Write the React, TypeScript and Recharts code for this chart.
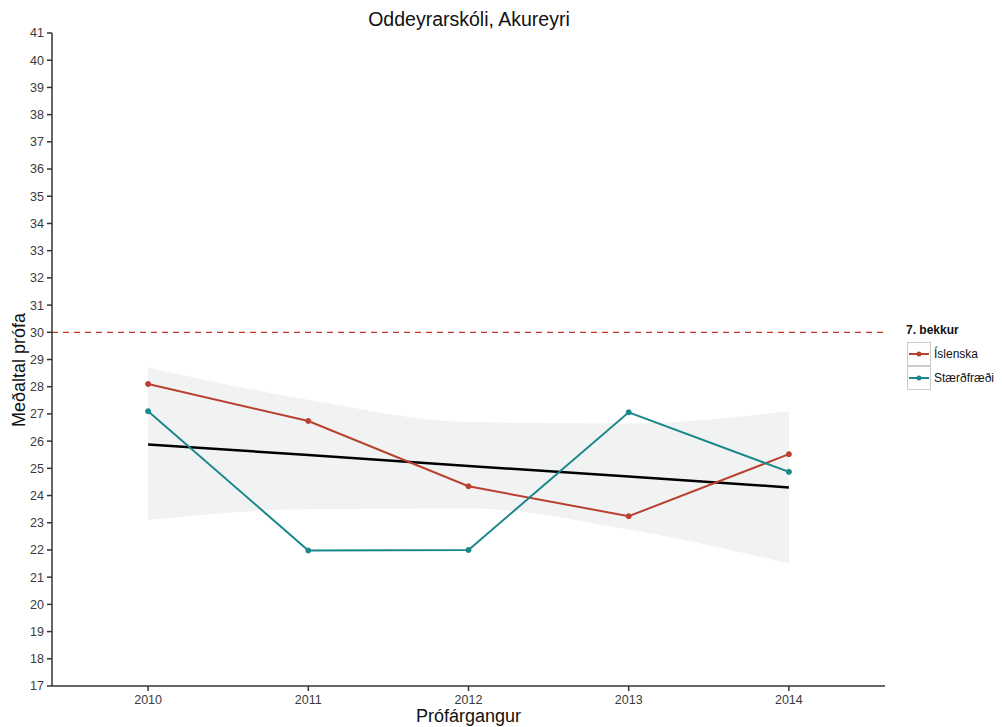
import {
  ComposedChart,
  Area,
  Line,
  XAxis,
  YAxis,
  ReferenceLine,
  Label,
} from "recharts";

const years = [2010, 2011, 2012, 2013, 2014];
const islenska = [28.1, 26.74, 24.34, 23.24, 25.52];
const staerdfraedi = [27.1, 21.98, 22.0, 27.06, 24.87];
const trend = [25.88, 25.49, 25.09, 24.7, 24.3];
const bandLow = [23.1, 23.5, 23.52, 22.75, 21.5];
const bandHigh = [28.7, 27.52, 26.7, 26.65, 27.1];
const yTicks = [17, 18, 19, 20, 21, 22, 23, 24, 25, 26, 27, 28, 29, 30, 31, 32, 33, 34, 35, 36, 37, 38, 39, 40, 41];
const target = 30;

const series = [
  { key: "islenska", name: "Íslenska", color: "#b9402f" },
  { key: "staerdfraedi", name: "Stærðfræði", color: "#1a878b" },
];

const data = years.map((y, i) => ({
  year: y,
  islenska: islenska[i],
  staerdfraedi: staerdfraedi[i],
  trend: trend[i],
  band: [bandLow[i], bandHigh[i]],
}));

const font = "'Liberation Sans', Arial, sans-serif";
const tick = { fontSize: 12.5, fill: "#3a3a3a", fontFamily: font };

export default function App() {
  return (
    <div style={{ position: "absolute", left: 0, top: 0, width: 1002, height: 727, fontFamily: font, background: "#fff" }}>
      <div style={{ position: "absolute", top: 8, left: 0, width: 938, textAlign: "center", fontSize: 19.5, color: "#111" }}>
        Oddeyrarskóli, Akureyri
      </div>
      <div
        style={{
          position: "absolute",
          left: 19,
          top: 370,
          transform: "translate(-50%, -50%) rotate(-90deg)",
          fontSize: 18,
          color: "#111",
          whiteSpace: "nowrap",
        }}
      >
        Meðaltal prófa
      </div>
      <ComposedChart width={1002} height={727} data={data} margin={{ top: 33, right: 117, bottom: 5, left: 22 }}>
        <XAxis
          dataKey="year"
          type="number"
          domain={[2009.4, 2014.6]}
          ticks={years}
          tick={tick}
          tickSize={5}
          tickMargin={4}
          height={36}
          stroke="#333"
          strokeWidth={1.5}
        >
          <Label value="Prófárgangur" position="insideBottom" offset={0} style={{ fontSize: 18, fill: "#111", fontFamily: font }} />
        </XAxis>
        <YAxis
          type="number"
          domain={[17, 41]}
          ticks={yTicks}
          interval={0}
          tick={tick}
          tickSize={5}
          tickMargin={3}
          width={30}
          stroke="#333"
          strokeWidth={1.5}
        />
        <Area
          dataKey="band"
          type="monotone"
          fill="#f1f3f3"
          fillOpacity={1}
          stroke="none"
          isAnimationActive={false}
        />
        <ReferenceLine y={target} stroke="#c0392b" strokeDasharray="6 5" strokeWidth={1.3} />
        <Line dataKey="trend" stroke="#000" strokeWidth={2.5} dot={false} isAnimationActive={false} />
        {series.map((s) => (
          <Line
            key={s.key}
            dataKey={s.key}
            stroke={s.color}
            strokeWidth={2}
            dot={{ r: 2.5, fill: s.color, stroke: s.color, strokeWidth: 1 }}
            isAnimationActive={false}
          />
        ))}
      </ComposedChart>
      <div style={{ position: "absolute", left: 906, top: 323, fontSize: 12, fontWeight: "bold", color: "#111" }}>7. bekkur</div>
      {series.map((s, i) => (
        <div key={s.key} style={{ position: "absolute", left: 907, top: 342 + i * 24, display: "flex", alignItems: "center" }}>
          <svg width={24} height={24} style={{ display: "block" }}>
            <rect x={0.5} y={0.5} width={23} height={23} fill="#fff" stroke="#ccc" />
            <line x1={2} y1={12} x2={22} y2={12} stroke={s.color} strokeWidth={2} />
            <circle cx={12} cy={12} r={2.5} fill={s.color} />
          </svg>
          <span style={{ fontSize: 12, color: "#111", marginLeft: 3 }}>{s.name}</span>
        </div>
      ))}
    </div>
  );
}
